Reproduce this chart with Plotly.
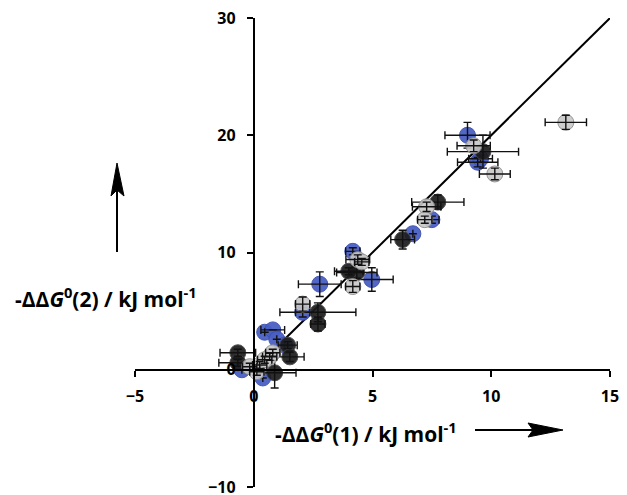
import plotly.graph_objects as go

# ---- data ----
blue_x  = [9.0, 9.43, 9.55, 7.5, 6.7, 4.17, 4.97, 2.78, 2.06, 0.46, 0.8, 0.97, -0.5, 0.38, 1.3]
blue_y  = [20.0, 17.7, 18.0, 12.8, 11.6, 10.1, 7.7, 7.3, 4.9, 3.2, 3.4, 2.6, 0.0, -0.7, 2.1]
blue_ex = [0.95, 0.85, 0.5, 0.3, 0.0, 0.3, 0.9, 0.9, 0.3, 0.0, 0.5, 0.0, 0.0, 0.0, 0.0]
blue_ey = [1.1, 0.4, 0.3, 0.3, 0.0, 0.3, 1.0, 1.05, 0.4, 0.0, 0.0, 0.0, 0.0, 0.0, 0.0]

black_x  = [9.65, 7.75, 6.27, 4.34, 4.0, 2.7, 2.7, 1.43, 1.52, -0.67, -0.67, 0.88]
black_y  = [18.6, 14.3, 11.1, 8.3, 8.4, 4.9, 3.9, 2.1, 1.1, 1.45, 0.6, -0.26]
black_ex = [1.5, 1.1, 0.5, 0.85, 0.6, 1.6, 0.3, 0.4, 0.6, 0.75, 0.8, 0.9]
black_ey = [1.4, 0.6, 0.8, 0.5, 0.3, 0.8, 0.6, 0.3, 0.4, 0.3, 0.3, 1.3]

gray_x  = [13.14, 9.26, 10.15, 7.28, 7.2, 4.38, 4.55, 4.17, 2.06, 0.67, 0.8, -0.17, 0.13, 0.25, 0.46]
gray_y  = [21.1, 19.1, 16.7, 13.9, 12.8, 9.4, 9.2, 7.1, 5.6, 1.1, 1.45, 0.26, -0.17, 0.4, 0.85]
gray_ex = [0.87, 0.7, 0.65, 0.6, 0.3, 0.5, 0.3, 0.3, 0.3, 0.3, 0.3, 0.3, 0.3, 0.3, 0.3]
gray_ey = [0.6, 0.5, 0.5, 0.4, 0.3, 0.4, 0.3, 0.5, 0.6, 0.3, 0.3, 0.3, 0.3, 0.3, 0.3]

line_x = [0, 15]
line_y = [0, 30]

x_ticks = [-5, 0, 5, 10, 15]
y_ticks = [-10, 0, 10, 20, 30]

# page has an 8px body margin; compensate
OFF = 8
W, H = 627 - OFF, 495 - OFF
PL, PR, PT, PB = 135, 610, 18, 487          # plot area in screen pixels
PW, PH = PR - PL, PB - PT
L, T = PL - OFF, PT - OFF
R, B = W - (PR - OFF), H - (PB - OFF)


def px(x):
    return (x - PL) / PW


def py(y):
    return (PB - y) / PH


fig = go.Figure()

fig.add_trace(go.Scatter(x=line_x, y=line_y, mode="lines",
                         line=dict(color="black", width=2), hoverinfo="skip"))


def add_series(xs, ys, exs, eys, fill, edge, opacity):
    fig.add_trace(go.Scatter(
        x=xs, y=ys, mode="markers",
        marker=dict(size=16, color=fill, opacity=opacity,
                    line=dict(color=edge, width=1)),
    ))
    fig.add_trace(go.Scatter(
        x=xs, y=ys, mode="markers",
        marker=dict(size=16, opacity=0),
        error_x=dict(type="data", array=exs, color="#111", thickness=1.4, width=4),
        error_y=dict(type="data", array=eys, color="#111", thickness=1.4, width=4),
    ))


add_series(blue_x, blue_y, blue_ex, blue_ey, "#4a5fc4", "#3e50b0", 0.95)
add_series(black_x, black_y, black_ex, black_ey, "#1c1c1c", "#444", 0.92)
add_series(gray_x, gray_y, gray_ex, gray_ey, "#c8c8c8", "#8a8a8a", 0.9)

tickfont = dict(family="Open Sans", size=16, color="black", weight="bold")

fig.update_layout(
    width=W, height=H,
    margin=dict(l=L, r=R, t=T, b=B, autoexpand=False),
    plot_bgcolor="white", paper_bgcolor="white",
    showlegend=False,
    xaxis=dict(range=[-5, 15], tickvals=x_ticks, showgrid=False, zeroline=False,
               showline=True, linecolor="black", linewidth=2,
               ticks="outside", ticklen=6, tickwidth=2, tickcolor="black",
               anchor="free", position=0.25, tickfont=tickfont,
               ticklabelstandoff=6, automargin=False, ticklabeloverflow="allow"),
    yaxis=dict(range=[-10, 30], tickvals=y_ticks, showgrid=False, zeroline=False,
               showline=True, linecolor="black", linewidth=2,
               ticks="outside", ticklen=6, tickwidth=2, tickcolor="black",
               anchor="free", position=0.25, tickfont=tickfont,
               ticklabelstandoff=8, automargin=False, ticklabeloverflow="allow"),
)

titlefont = dict(family="Open Sans", size=21, color="black", weight="bold")
fig.add_annotation(xref="paper", yref="paper", x=px(366), y=py(432),
                   yanchor="middle", xanchor="center",
                   text="-ΔΔ<i>G</i><sup>0</sup>(1) / kJ mol<sup>-1</sup>",
                   showarrow=False, font=titlefont)
fig.add_annotation(xref="paper", yref="paper", x=px(106), y=py(297),
                   yanchor="middle", xanchor="center",
                   text="-ΔΔ<i>G</i><sup>0</sup>(2) / kJ mol<sup>-1</sup>",
                   showarrow=False, font=titlefont)

# arrows
fig.add_shape(type="line", xref="paper", yref="paper",
              x0=px(475), y0=py(430), x1=px(540), y1=py(430),
              line=dict(color="black", width=2))
fig.add_shape(type="path", xref="paper", yref="paper",
              path=f"M{px(528)},{py(423)} L{px(563)},{py(430)} L{px(528)},{py(437)} L{px(533)},{py(430)} Z",
              fillcolor="black", line=dict(color="black", width=1))
fig.add_shape(type="line", xref="paper", yref="paper",
              x0=px(117), y0=py(252), x1=px(117), y1=py(185),
              line=dict(color="black", width=2))
fig.add_shape(type="path", xref="paper", yref="paper",
              path=f"M{px(111)},{py(196)} L{px(117)},{py(163)} L{px(124)},{py(196)} L{px(117)},{py(190)} Z",
              fillcolor="black", line=dict(color="black", width=1))

fig.write_html("out.html")
